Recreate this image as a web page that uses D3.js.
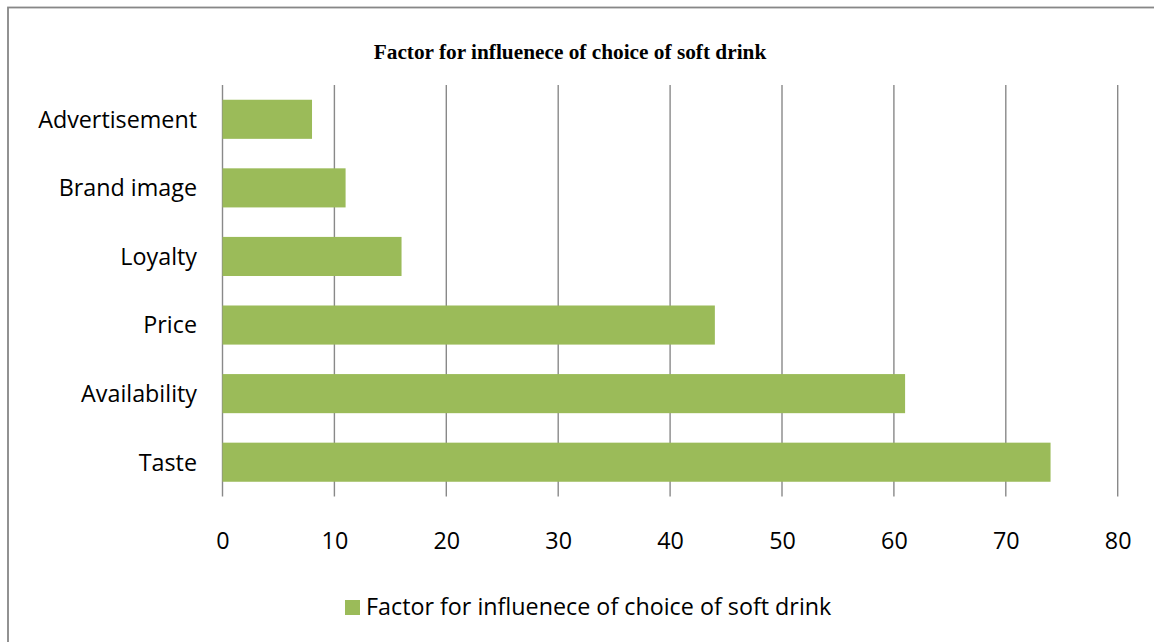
<!DOCTYPE html>
<html>
<head>
<meta charset="utf-8">
<script src="https://cdn.jsdelivr.net/npm/d3@7"></script>
<style>
  html, body { margin: 0; padding: 0; background: #fff; }
  svg { display: block; }
</style>
</head>
<body>
<svg id="chart" width="1154" height="642"></svg>
<script>
const categories = ["Advertisement", "Brand image", "Loyalty", "Price", "Availability", "Taste"];
const values = [8, 11, 16, 44, 61, 74];
const xTicks = [0, 10, 20, 30, 40, 50, 60, 70, 80];
const chartTitle = "Factor for influenece of choice of soft drink";
const seriesName = "Factor for influenece of choice of soft drink";

const svg = d3.select("#chart");
const barColor = "#9BBB59";
const gridColor = "#898989";
const sansFont = "'Open Sans', 'Noto Sans', sans-serif";
const labelSize = 23.3;

// outer chart border (extends beyond the visible area on right/bottom)
svg.append("rect")
  .attr("x", 8).attr("y", 7.5)
  .attr("width", 1300).attr("height", 800)
  .attr("fill", "#fff")
  .attr("stroke", "#878787")
  .attr("stroke-width", 1.8);

const plot = { left: 222.5, right: 1117.7, top: 85, bottom: 496.5 };

const x = d3.scaleLinear().domain([0, 80]).range([plot.left, plot.right]);
const y = d3.scaleBand().domain(categories).range([plot.top, plot.bottom]).paddingInner(0.43).paddingOuter(0.215);

// title
svg.append("text")
  .attr("x", 570).attr("y", 59)
  .attr("text-anchor", "middle")
  .attr("font-family", "'Liberation Serif', 'Times New Roman', serif")
  .attr("font-weight", "bold")
  .attr("font-size", 21.3)
  .attr("fill", "#000")
  .text(chartTitle);

// vertical gridlines
svg.append("g").selectAll("line")
  .data(xTicks)
  .join("line")
  .attr("x1", d => x(d)).attr("x2", d => x(d))
  .attr("y1", plot.top).attr("y2", plot.bottom)
  .attr("stroke", gridColor)
  .attr("stroke-width", 1.4);

// bars
svg.append("g").selectAll("rect")
  .data(categories)
  .join("rect")
  .attr("x", x(0))
  .attr("y", d => y(d))
  .attr("width", (d, i) => x(values[i]) - x(0))
  .attr("height", y.bandwidth())
  .attr("fill", barColor);

// x axis labels
const xAxis = d3.axisBottom(x).tickValues(xTicks).tickSize(0).tickPadding(0);
const gx = svg.append("g")
  .attr("transform", `translate(0,${plot.bottom})`)
  .call(xAxis);
gx.select(".domain").remove();
gx.selectAll("text")
  .attr("font-family", sansFont)
  .attr("font-size", labelSize)
  .attr("fill", "#000")
  .attr("dy", null)
  .attr("y", 52);

// y axis labels
const yAxis = d3.axisLeft(y).tickSize(0).tickPadding(0);
const gy = svg.append("g")
  .attr("transform", `translate(197,0)`)
  .call(yAxis);
gy.select(".domain").remove();
gy.selectAll("text")
  .attr("font-family", sansFont)
  .attr("font-size", labelSize)
  .attr("fill", "#000")
  .attr("dy", "0.36em");

// legend
const lg = svg.append("g");
lg.append("rect")
  .attr("x", 345).attr("y", 600)
  .attr("width", 15).attr("height", 15)
  .attr("fill", barColor);
lg.append("text")
  .attr("x", 366).attr("y", 615)
  .attr("font-family", sansFont)
  .attr("font-size", labelSize)
  .attr("fill", "#000")
  .text(seriesName);
</script>
</body>
</html>
